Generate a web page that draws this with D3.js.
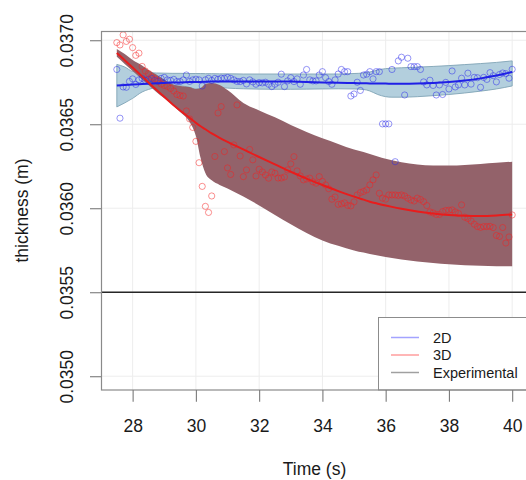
<!DOCTYPE html>
<html>
<head>
<meta charset="utf-8">
<script src="https://cdn.jsdelivr.net/npm/d3@7"></script>
<style>
  body { margin: 0; background: #fff; }
  svg { display: block; }
</style>
</head>
<body>
<svg id="chart" width="526" height="480"></svg>
<script>
// ---- data ----
const xTicks = [28, 30, 32, 34, 36, 38, 40];
const yTicks = [0.0350, 0.0355, 0.0360, 0.0365, 0.0370];
const experimental = 0.0355;
const seriesNames = ["2D", "3D", "Experimental"];

// sampled times (s)
const sampleTime = [
  27.5,27.6,27.7,27.8,27.9,
  28.0,28.1,28.2,28.3,28.4,28.5,28.6,28.7,28.8,28.9,
  29.0,29.1,29.2,29.3,29.4,29.5,29.6,29.7,29.8,29.9,
  30.0,30.1,30.2,30.3,30.4,30.5,30.6,30.7,30.8,30.9,
  31.0,31.1,31.2,31.3,31.4,31.5,31.6,31.7,31.8,31.9,
  32.0,32.1,32.2,32.3,32.4,32.5,32.6,32.7,32.8,32.9,
  33.0,33.1,33.2,33.3,33.4,33.5,33.6,33.7,33.8,33.9,
  34.0,34.1,34.2,34.3,34.4,34.5,34.6,34.7,34.8,34.9,
  35.0,35.1,35.2,35.3,35.4,35.5,35.6,35.7,35.8,35.9,
  36.0,36.1,36.2,36.3,36.4,36.5,36.6,36.7,36.8,36.9,
  37.0,37.1,37.2,37.3,37.4,37.5,37.6,37.7,37.8,37.9,
  38.0,38.1,38.2,38.3,38.4,38.5,38.6,38.7,38.8,38.9,
  39.0,39.1,39.2,39.3,39.4,39.5,39.6,39.7,39.8,39.9,
  40.0
];

// 2D simulation thickness (m)
const thickness2D = [
  0.036826,0.036536,0.036722,0.036720,0.036755,
  0.036770,0.036737,0.036764,0.036773,0.036761,0.036767,0.036773,0.036761,0.036755,0.036773,
  0.036779,0.036764,0.036761,0.036767,0.036754,0.036754,0.036764,0.036793,0.036755,0.036764,
  0.036768,0.036764,0.036728,0.036764,0.036773,0.036761,0.036773,0.036768,0.036774,0.036774,
  0.036779,0.036773,0.036764,0.036755,0.036754,0.036761,0.036740,0.036764,0.036752,0.036738,
  0.036748,0.036746,0.036750,0.036738,0.036724,0.036738,0.036750,0.036798,0.036724,0.036758,
  0.036777,0.036754,0.036770,0.036738,0.036793,0.036826,0.036764,0.036758,0.036758,0.036793,
  0.036813,0.036777,0.036754,0.036738,0.036764,0.036799,0.036826,0.036813,0.036813,0.036668,
  0.036680,0.036750,0.036701,0.036793,0.036798,0.036813,0.036770,0.036813,0.036813,0.036502,
  0.036502,0.036502,0.036826,0.036277,0.036877,0.036899,0.036674,0.036893,0.036843,0.036843,
  0.036843,0.036826,0.036752,0.036734,0.036762,0.036731,0.036674,0.036734,0.036677,0.036749,
  0.036710,0.036817,0.036722,0.036734,0.036774,0.036734,0.036804,0.036739,0.036779,0.036777,
  0.036720,0.036779,0.036767,0.036807,0.036789,0.036752,0.036796,0.036805,0.036801,0.036774,
  0.036827
];

// 3D simulation thickness (m)
const thickness3D = [
  0.036986,0.036972,0.037032,0.036993,0.037006,
  0.036956,0.036910,0.036923,0.036844,0.036817,0.036802,0.036782,0.036770,0.036758,0.036740,
  0.036731,0.036725,0.036713,0.036698,0.036677,0.036671,0.036668,0.036579,0.036532,0.036481,
  0.036398,0.036271,0.036130,0.036011,0.035975,0.036073,0.036308,0.036567,0.036605,0.036337,
  0.036240,0.036201,0.036377,0.036615,0.036311,0.036188,0.036228,0.036350,0.036288,0.036192,
  0.036232,0.036216,0.036198,0.036179,0.036216,0.036208,0.036180,0.036180,0.036186,0.036228,
  0.036264,0.036307,0.036222,0.036192,0.036169,0.036174,0.036179,0.036157,0.036149,0.036188,
  0.036160,0.036139,0.036116,0.036054,0.036067,0.036023,0.036026,0.036032,0.036017,0.036014,
  0.036038,0.036079,0.036093,0.036100,0.036109,0.036139,0.036169,0.036198,0.036089,0.036060,
  0.036054,0.036079,0.036079,0.036079,0.036076,0.036079,0.036073,0.036060,0.036049,0.036043,
  0.036060,0.036052,0.036039,0.036016,0.035978,0.035972,0.035963,0.035963,0.035980,0.035987,
  0.035988,0.035990,0.035978,0.035969,0.036020,0.035947,0.035939,0.035924,0.035905,0.035891,
  0.035886,0.035891,0.035891,0.035892,0.035885,0.035838,0.035832,0.035885,0.035793,0.035829,
  0.035960
];

// smoothed fits with confidence bands
const fitTime = [27.5,27.75,28,28.3,28.5,28.75,29,29.25,29.5,29.8,30,30.15,30.3,30.5,30.75,
  31,31.5,32,32.5,33,33.5,34,34.5,35,35.3,35.5,35.75,36,36.2,36.5,37,37.5,38,38.5,39,39.5,40];

const fit2D = [0.036731,0.036734,0.036736,0.036739,0.036741,0.036744,0.036746,0.036748,0.036749,
  0.036751,0.036752,0.036752,0.036753,0.036754,0.036754,0.036755,0.036755,0.036755,0.036755,
  0.036754,0.036752,0.036749,0.036747,0.036745,0.036744,0.036743,0.036742,0.036742,0.036741,
  0.036741,0.036742,0.036745,0.036751,0.036760,0.036773,0.036790,0.036811];
const fit2DUpper = [0.036856,0.036841,0.036814,0.036807,0.036806,0.036805,0.036804,0.036803,0.036803,
  0.036802,0.036802,0.036802,0.036801,0.036801,0.036800,0.036800,0.036799,0.036799,0.036799,
  0.036799,0.036799,0.036799,0.036799,0.036802,0.036805,0.036811,0.036823,0.036831,0.036834,
  0.036836,0.036840,0.036844,0.036849,0.036855,0.036861,0.036868,0.036877];
const fit2DLower = [0.036603,0.036627,0.036654,0.036692,0.036707,0.036719,0.036725,0.036728,0.036728,
  0.036719,0.036710,0.036713,0.036725,0.036725,0.036719,0.036715,0.036711,0.036709,0.036708,
  0.036708,0.036709,0.036710,0.036711,0.036710,0.036707,0.036698,0.036677,0.036664,0.036661,
  0.036661,0.036664,0.036670,0.036677,0.036686,0.036697,0.036710,0.036728];

const fit3D = [0.036924,0.036881,0.036838,0.036785,0.036749,0.036705,0.036663,0.036621,0.036582,
  0.036538,0.036508,0.036488,0.036470,0.036445,0.036419,0.036395,0.036350,0.036305,0.036261,
  0.036217,0.036176,0.036138,0.036102,0.036069,0.036051,0.036039,0.036027,0.036016,0.036008,
  0.035997,0.035981,0.035969,0.035960,0.035955,0.035954,0.035957,0.035963];
const fit3DUpper = [0.036948,0.036918,0.036883,0.036850,0.036823,0.036796,0.036767,0.036740,0.036728,
  0.036722,0.036710,0.036716,0.036740,0.036746,0.036734,0.036704,0.036627,0.036582,0.036541,
  0.036496,0.036454,0.036416,0.036383,0.036350,0.036335,0.036323,0.036308,0.036294,0.036285,
  0.036273,0.036261,0.036255,0.036254,0.036258,0.036264,0.036270,0.036277];
const fit3DLower = [0.036901,0.036859,0.036817,0.036767,0.036734,0.036692,0.036654,0.036618,0.036573,
  0.036514,0.036430,0.036299,0.036210,0.036166,0.036139,0.036118,0.036070,0.036017,0.035960,
  0.035904,0.035853,0.035808,0.035776,0.035749,0.035736,0.035728,0.035718,0.035710,0.035704,
  0.035695,0.035683,0.035674,0.035666,0.035660,0.035657,0.035654,0.035654];

// ---- drawing ----
const FONT = "'Liberation Sans', Arial, Helvetica, sans-serif";
const svg = d3.select("#chart");

const plot = { left: 101, right: 528, top: 31, bottom: 390 };
const x = d3.scaleLinear().domain([27, 40.5]).range([plot.left, plot.right]);
const y = d3.scaleLinear().domain([0.034918, 0.037055]).range([plot.bottom, plot.top]);

// background grid
const grid = svg.append("g").attr("stroke", "#ededed").attr("stroke-width", 1);
grid.selectAll("line.v").data(xTicks).join("line")
  .attr("class", "v")
  .attr("x1", d => x(d)).attr("x2", d => x(d))
  .attr("y1", plot.top).attr("y2", plot.bottom);
grid.selectAll("line.h").data(yTicks).join("line")
  .attr("class", "h")
  .attr("x1", plot.left).attr("x2", plot.right)
  .attr("y1", d => y(d)).attr("y2", d => y(d));

// confidence bands
const band = (lo, hi) => d3.area()
  .x((d, i) => x(fitTime[i]))
  .y0((d, i) => y(lo[i]))
  .y1((d, i) => y(hi[i]))
  .curve(d3.curveMonotoneX);

svg.append("path").datum(fitTime)
  .attr("d", band(fit2DLower, fit2DUpper))
  .attr("fill", "#b3cfdd")
  .attr("stroke", "#80a4b6")
  .attr("stroke-width", 0.9);

svg.append("path").datum(fitTime)
  .attr("d", band(fit3DLower, fit3DUpper))
  .attr("fill", "#93626a");

// sample points
svg.append("g").selectAll("circle").data(sampleTime).join("circle")
  .attr("cx", d => x(d))
  .attr("cy", (d, i) => y(thickness2D[i]))
  .attr("r", 3.1)
  .attr("fill", "none")
  .attr("stroke", "rgba(40,40,235,0.55)")
  .attr("stroke-width", 0.9);

svg.append("g").selectAll("circle").data(sampleTime).join("circle")
  .attr("cx", d => x(d))
  .attr("cy", (d, i) => y(thickness3D[i]))
  .attr("r", 3.1)
  .attr("fill", "none")
  .attr("stroke", "rgba(245,30,30,0.55)")
  .attr("stroke-width", 0.9);

// fitted curves
const fitLine = vals => d3.line()
  .x((d, i) => x(fitTime[i]))
  .y((d, i) => y(vals[i]))
  .curve(d3.curveMonotoneX);

svg.append("path").datum(fitTime)
  .attr("d", fitLine(fit2D))
  .attr("fill", "none").attr("stroke", "#1f1fe6").attr("stroke-width", 2);

svg.append("path").datum(fitTime)
  .attr("d", fitLine(fit3D))
  .attr("fill", "none").attr("stroke", "#e81c1c").attr("stroke-width", 2);

// experimental reference
svg.append("line")
  .attr("x1", plot.left).attr("x2", plot.right)
  .attr("y1", y(experimental)).attr("y2", y(experimental))
  .attr("stroke", "#262626").attr("stroke-width", 1.6);

// legend
const legend = svg.append("g");
legend.append("rect")
  .attr("x", 378.5).attr("y", 317.5)
  .attr("width", 160).attr("height", plot.bottom - 317.5)
  .attr("fill", "#fff").attr("stroke", "#8c8c8c").attr("stroke-width", 1);
const legendColors = ["#a3a3ff", "#ff9e9e", "#a0a0a0"];
const legendRows = legend.selectAll("g.row").data(seriesNames).join("g")
  .attr("class", "row")
  .attr("transform", (d, i) => `translate(0,${337.5 + i * 17.5})`);
legendRows.append("line")
  .attr("x1", 391).attr("x2", 419).attr("y1", 0).attr("y2", 0)
  .attr("stroke", (d, i) => legendColors[i]).attr("stroke-width", 1.5);
legendRows.append("text")
  .attr("x", 433).attr("y", 0).attr("dy", "0.36em")
  .attr("font-family", FONT).attr("font-size", 14.5).attr("fill", "#1a1a1a")
  .text(d => d);

// plot frame
svg.append("rect")
  .attr("x", plot.left + 0.5).attr("y", plot.top + 0.5)
  .attr("width", plot.right - plot.left).attr("height", plot.bottom - plot.top - 0.5)
  .attr("fill", "none").attr("stroke", "#8a8a8a").attr("stroke-width", 1.2);

// axes
const gy = svg.append("g")
  .attr("transform", `translate(${plot.left},0)`)
  .call(d3.axisLeft(y).tickValues(yTicks).tickSize(11).tickFormat(d3.format(".4f")));
gy.attr("font-size", null).attr("font-family", null);
gy.select(".domain").remove();
gy.selectAll(".tick line").attr("stroke", "#7a7a7a").attr("stroke-width", 1.1);
gy.selectAll(".tick text")
  .attr("x", null).attr("dy", null)
  .attr("text-anchor", "middle")
  .attr("transform", "translate(-27.7,0) rotate(-90)")
  .attr("font-family", FONT).attr("font-size", 17.5).attr("fill", "#1a1a1a");

const gx = svg.append("g")
  .attr("transform", `translate(0,${plot.bottom})`)
  .call(d3.axisBottom(x).tickValues(xTicks).tickSize(11.7).tickFormat(d3.format("d")));
gx.attr("font-size", null).attr("font-family", null);
gx.select(".domain").remove();
gx.selectAll(".tick line").attr("stroke", "#7a7a7a").attr("stroke-width", 1.1);
gx.selectAll(".tick text")
  .attr("y", 41.7).attr("dy", null)
  .attr("font-family", FONT).attr("font-size", 17.5).attr("fill", "#1a1a1a");

// axis titles
svg.append("text")
  .attr("x", (plot.left + plot.right) / 2).attr("y", 474.5)
  .attr("text-anchor", "middle")
  .attr("font-family", FONT).attr("font-size", 17.5).attr("fill", "#1a1a1a")
  .text("Time (s)");
svg.append("text")
  .attr("transform", `translate(28,${(plot.top + plot.bottom) / 2}) rotate(-90)`)
  .attr("text-anchor", "middle")
  .attr("font-family", FONT).attr("font-size", 17.5).attr("fill", "#1a1a1a")
  .text("thickness (m)");
</script>
</body>
</html>
